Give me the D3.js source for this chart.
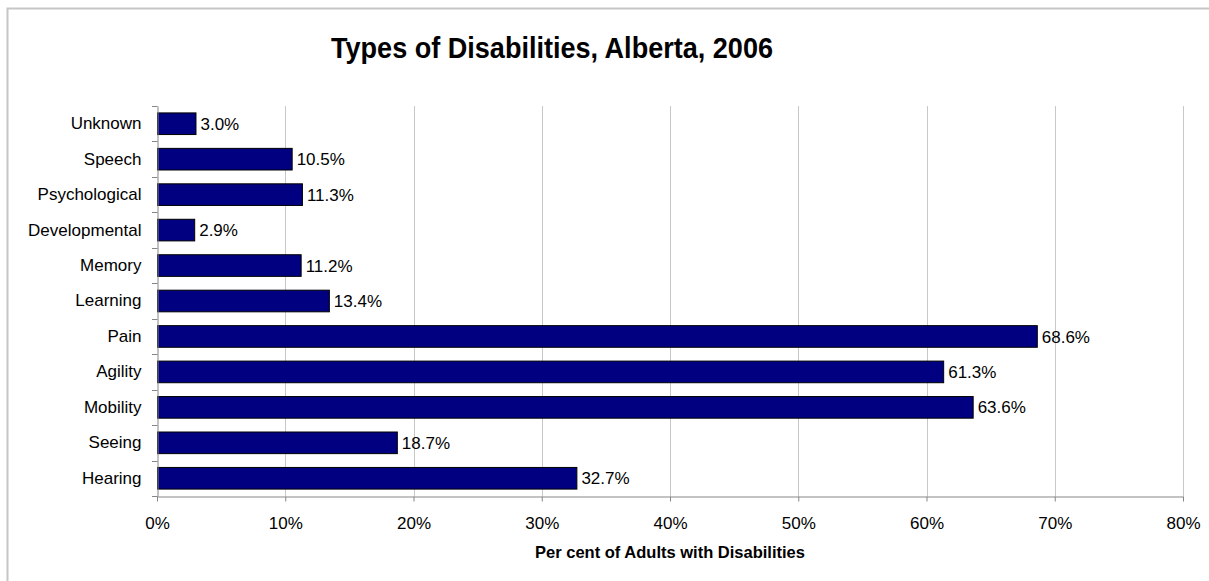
<!DOCTYPE html>
<html>
<head>
<meta charset="utf-8">
<script src="https://cdn.jsdelivr.net/npm/d3@7"></script>
<style>
  html, body { margin: 0; padding: 0; background: #fff; }
  svg { display: block; font-family: "Liberation Sans", Arial, sans-serif; }
</style>
</head>
<body>
<svg id="chart" width="1209" height="581"></svg>
<script>
const categories = ["Unknown", "Speech", "Psychological", "Developmental", "Memory", "Learning", "Pain", "Agility", "Mobility", "Seeing", "Hearing"];
const values = [3.0, 10.5, 11.3, 2.9, 11.2, 13.4, 68.6, 61.3, 63.6, 18.7, 32.7];
const xTicks = [0, 10, 20, 30, 40, 50, 60, 70, 80];
const titleText = "Types of Disabilities, Alberta, 2006";
const xAxisTitle = "Per cent of Adults with Disabilities";

(function () {
const svg = d3.select("#chart");
const W = 1209, H = 581;
const pL = 157, pR = 1183, pT = 106, pB = 496;
const fs = "17px";

// outer chart border
svg.append("rect").attr("x", 7.5).attr("y", 8.5).attr("width", W + 10).attr("height", H + 10)
  .attr("fill", "none").attr("stroke", "#c6c6c6").attr("stroke-width", 2);

const x = d3.scaleLinear().domain([0, 80]).range([pL, pR]);
const y = d3.scaleBand().domain(categories).range([pT, pB]).paddingInner(0.39).paddingOuter(0.195);

// gridlines
svg.append("g").selectAll("line").data(xTicks.filter(d => d > 0)).join("line")
  .attr("x1", d => Math.round(x(d)) + 0.5).attr("x2", d => Math.round(x(d)) + 0.5)
  .attr("y1", pT).attr("y2", pB)
  .attr("stroke", "#c8c8c8").attr("stroke-width", 1);

// bars
svg.append("g").selectAll("rect").data(categories).join("rect")
  .attr("x", x(0) + 0.5)
  .attr("y", d => y(d))
  .attr("width", (d, i) => x(values[i]) - x(0))
  .attr("height", y.bandwidth())
  .attr("fill", "#000080").attr("stroke", "#000").attr("stroke-width", 1);

// value labels
svg.append("g").selectAll("text").data(categories).join("text")
  .attr("x", (d, i) => x(values[i]) + 5)
  .attr("y", d => y(d) + y.bandwidth() / 2)
  .attr("dy", "0.36em")
  .attr("font-size", fs).attr("fill", "#000")
  .text((d, i) => values[i].toFixed(1) + "%");

// x axis
const xAxis = d3.axisBottom(x).tickValues(xTicks).tickFormat(d => d + "%").tickSizeInner(5).tickSizeOuter(0).tickPadding(15);
const gx = svg.append("g").attr("transform", `translate(0,${pB + 0.5})`).call(xAxis);
gx.select(".domain").attr("stroke", "#868686");
gx.selectAll(".tick line").attr("stroke", "#868686");
gx.selectAll(".tick text").attr("font-size", fs).attr("fill", "#000")
  .attr("font-family", "'Liberation Sans', Arial, sans-serif");

// y axis
const yAxis = d3.axisLeft(y).tickSize(0).tickPadding(16);
const gy = svg.append("g").attr("transform", `translate(${pL + 0.5},0)`).call(yAxis);
gy.select(".domain").attr("stroke", "#868686");
gy.selectAll(".tick text").attr("font-size", fs).attr("fill", "#000")
  .attr("font-family", "'Liberation Sans', Arial, sans-serif");
// category boundary tick marks
const bounds = d3.range(categories.length + 1).map(i => pT + i * (pB - pT) / categories.length);
svg.append("g").selectAll("line").data(bounds).join("line")
  .attr("x1", pL - 5).attr("x2", pL + 0.5)
  .attr("y1", d => Math.round(d) + 0.5).attr("y2", d => Math.round(d) + 0.5)
  .attr("stroke", "#868686");

// title
svg.append("text").attr("x", 552).attr("y", 58).attr("text-anchor", "middle")
  .attr("font-size", "29px").attr("font-weight", "bold").attr("fill", "#000")
  .attr("textLength", 442).attr("lengthAdjust", "spacingAndGlyphs")
  .text(titleText);

// x axis title
svg.append("text").attr("x", (pL + pR) / 2).attr("y", 558).attr("text-anchor", "middle")
  .attr("font-size", "16.5px").attr("font-weight", "bold").attr("fill", "#000")
  .text(xAxisTitle);
})();
</script>
</body>
</html>
